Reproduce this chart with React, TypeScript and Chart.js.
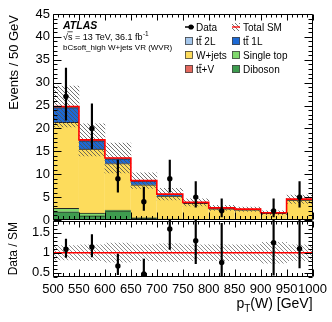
import React, { useEffect, useRef } from "react";
import { Chart, registerables } from "chart.js";

Chart.register(...registerables);

const FONT = "'Liberation Sans', Arial, Helvetica, sans-serif";

// ---- axes / ticks ----
const binEdges = [500, 550, 600, 650, 700, 750, 800, 850, 900, 950, 1000];
const binCenters = [525, 575, 625, 675, 725, 775, 825, 875, 925, 975];
const xTickValues = [500, 550, 600, 650, 700, 750, 800, 850, 900, 950, 1000];
const yTickValues = [0, 5, 10, 15, 20, 25, 30, 35, 40, 45];
const ratioTickValues = [0.5, 1, 1.5];
const X_MIN = 500;
const X_MAX = 1000;
const Y_MIN = 0;
const Y_MAX = 45;
const RATIO_MIN = 0.39;
const RATIO_MAX = 1.82;

// ---- data ----
const dataCounts = [27, 20, 9, 4, 9, 5, 2, 0, 2, 5];
const dataErrUp = [6.2, 5.4, 4.1, 3.2, 4.1, 3.4, 2.6, 0, 2.6, 3.4];
const dataErrDown = [5.2, 4.4, 2.9, 1.9, 2.9, 2.2, 1.3, 0, 1.3, 2.2];

// ---- MC backgrounds (stack order bottom -> top) ----
const dibosonYield = [1.8, 0.9, 2.0, 0.4, 0.15, 0.1, 0.1, 0.1, 0.05, 0.1];
const singleTopYield = [0.75, 0.6, 0.15, 0.05, 0.05, 0.05, 0.05, 0.02, 0.05, 0.05];
const wjetsYield = [18.8, 14.0, 10.2, 7.25, 5.0, 3.5, 2.3, 2.1, 1.35, 4.2];
const ttbar1LYield = [3.2, 1.8, 1.0, 0.8, 0.35, 0.1, 0.1, 0.05, 0.05, 0.1];
const ttbar2LYield = [0.1, 0.1, 0.1, 0.05, 0.05, 0.05, 0.05, 0.05, 0.05, 0.05];
const ttVYield = [0.15, 0.1, 0.1, 0.05, 0.05, 0.05, 0.05, 0.05, 0.05, 0.05];
const mcRelUnc = [0.18, 0.2, 0.24, 0.2, 0.22, 0.2, 0.2, 0.2, 0.26, 0.2];

// ---- texts ----
const atlasLabel = "ATLAS";
const energyLabel = "\u221As = 13 TeV, 36.1 fb";
const lumiSup = "-1";
const regionLabel = "bCsoft_high W+jets VR (WVR)";
const yTitle = "Events / 50 GeV";
const ratioTitle = "Data / SM";
const xTitleMain = "p";
const xTitleSub = "T";
const xTitleRest = "(W) [GeV]";

const mcSeries = [
  { label: "Diboson", values: dibosonYield, color: "#3e9c4f" },
  { label: "Single top", values: singleTopYield, color: "#80d96d" },
  { label: "W+jets", values: wjetsYield, color: "#fddc5c" },
  { label: "tt\u0304 1L", values: ttbar1LYield, color: "#1c69d5" },
  { label: "tt\u0304 2L", values: ttbar2LYield, color: "#a5c7ec" },
  { label: "tt\u0304+V", values: ttVYield, color: "#e4685e" },
];

const legendLeft = ["Data", "tt\u0304 2L", "W+jets", "tt\u0304+V"];
const legendRight = ["Total SM", "tt\u0304 1L", "Single top", "Diboson"];

function makeHatch(ctx: CanvasRenderingContext2D, color: string, size: number) {
  const c = document.createElement("canvas");
  c.width = size;
  c.height = size;
  const g = c.getContext("2d")!;
  g.strokeStyle = color;
  g.lineWidth = 1;
  g.beginPath();
  g.moveTo(0, 0);
  g.lineTo(size, size);
  g.moveTo(-1, size - 1);
  g.lineTo(1, size + 1);
  g.moveTo(size - 1, -1);
  g.lineTo(size + 1, 1);
  g.stroke();
  return ctx.createPattern(c, "repeat")!;
}

function colorOf(label: string) {
  const s = mcSeries.find((m) => m.label === label);
  return s ? s.color : "#000";
}

function drawLabel(ctx: CanvasRenderingContext2D, text: string, x: number, y: number) {
  // handles the ttbar overline manually
  if (text.startsWith("tt\u0304")) {
    const wT = ctx.measureText("t").width;
    ctx.fillText("tt", x, y);
    ctx.save();
    ctx.strokeStyle = "#000";
    ctx.lineWidth = 0.8;
    ctx.beginPath();
    ctx.moveTo(x + wT + 0.2, y - 8.3);
    ctx.lineTo(x + 2 * wT + 0.3, y - 8.3);
    ctx.stroke();
    ctx.restore();
    ctx.fillText(text.slice(3), x + 2 * wT, y);
  } else {
    ctx.fillText(text, x, y);
  }
}

export default function App() {
  const ref = useRef<HTMLCanvasElement>(null);

  useEffect(() => {
    const canvas = ref.current!;
    const c2d = canvas.getContext("2d")!;
    const hatchMain = makeHatch(c2d, "rgba(80,80,80,0.8)", 4);
    const hatchRatio = makeHatch(c2d, "rgba(120,120,120,0.85)", 4);

    const total = binCenters.map((_, i) =>
      mcSeries.reduce((s, m) => s + m.values[i], 0)
    );

    const clampR = (v: number) => Math.min(RATIO_MAX, Math.max(RATIO_MIN, v));
    const hasData = (i: number) => dataCounts[i] > 0;
    const idx = binCenters.map((_, i) => i).filter(hasData);

    const fullBin = { barPercentage: 1, categoryPercentage: 1, grouped: false };

    const datasets: any[] = [
      // main: data points
      {
        type: "scatter",
        xAxisID: "x",
        yAxisID: "y",
        stack: "pts",
        data: idx.map((i) => ({ x: binCenters[i], y: dataCounts[i] })),
        pointRadius: 2.7,
        pointBackgroundColor: "#000",
        pointBorderWidth: 0,
        order: 0,
      },
      // main: data error bars
      {
        type: "bar",
        xAxisID: "x",
        yAxisID: "y",
        stack: "err",
        grouped: false,
        barThickness: 1.5,
        backgroundColor: "#000",
        borderWidth: 0,
        data: idx.map((i) => ({
          x: binCenters[i],
          y: [dataCounts[i] - dataErrDown[i], dataCounts[i] + dataErrUp[i]],
        })),
        order: 1,
      },
      // main: total SM line
      {
        type: "line",
        xAxisID: "x",
        yAxisID: "y",
        stack: "smline",
        stepped: "before",
        data: binEdges.map((x, i) => ({ x, y: total[Math.min(i, total.length - 1)] })),
        borderColor: "#ff0000",
        borderWidth: 1.6,
        pointRadius: 0,
        fill: false,
        order: 2,
      },
      // main: uncertainty band
      {
        type: "bar",
        xAxisID: "x",
        yAxisID: "y",
        stack: "band",
        ...fullBin,
        backgroundColor: hatchMain,
        borderWidth: 0,
        data: binCenters.map((x, i) => ({
          x,
          y: [total[i] * (1 - mcRelUnc[i]), total[i] * (1 + mcRelUnc[i])],
        })),
        order: 3,
      },
      // main: stacked MC
      ...mcSeries.map((m) => ({
        type: "bar",
        label: m.label,
        xAxisID: "x",
        yAxisID: "y",
        stack: "mc",
        ...fullBin,
        backgroundColor: m.color,
        borderColor: "rgba(0,0,0,0.85)",
        borderWidth: { top: 1, left: 0, right: 0, bottom: 0 },
        borderSkipped: false,
        data: binCenters.map((x, i) => ({ x, y: m.values[i] })),
        order: 10,
      })),
      // ratio: points
      {
        type: "scatter",
        xAxisID: "x",
        yAxisID: "yRatio",
        data: idx.map((i) => ({ x: binCenters[i], y: dataCounts[i] / total[i] })),
        pointRadius: 2.7,
        pointBackgroundColor: "#000",
        pointBorderWidth: 0,
        order: 0,
      },
      // ratio: error bars
      {
        type: "bar",
        xAxisID: "x",
        yAxisID: "yRatio",
        grouped: false,
        barThickness: 1.5,
        backgroundColor: "#000",
        borderWidth: 0,
        data: idx.map((i) => ({
          x: binCenters[i],
          y: [
            clampR((dataCounts[i] - dataErrDown[i]) / total[i]),
            clampR((dataCounts[i] + dataErrUp[i]) / total[i]),
          ],
        })),
        order: 1,
      },
      // ratio: unity line
      {
        type: "line",
        xAxisID: "x",
        yAxisID: "yRatio",
        data: [
          { x: X_MIN, y: 1 },
          { x: X_MAX, y: 1 },
        ],
        borderColor: "#ff0000",
        borderWidth: 1.6,
        pointRadius: 0,
        fill: false,
        order: 2,
      },
      // ratio: uncertainty band
      {
        type: "bar",
        xAxisID: "x",
        yAxisID: "yRatio",
        ...fullBin,
        backgroundColor: hatchRatio,
        borderWidth: 0,
        data: binCenters.map((x, i) => ({
          x,
          y: [1 - mcRelUnc[i], 1 + mcRelUnc[i]],
        })),
        order: 3,
      },
    ];

    const axesPlugin = {
      id: "atlasAxes",
      afterDatasetsDraw(chart: any) {
        const ctx: CanvasRenderingContext2D = chart.ctx;
        const xs = chart.scales.x;
        const ys = chart.scales.y;
        const rs = chart.scales.yRatio;
        const L = Math.round(xs.left) + 0.5;
        const R = Math.round(xs.right) - 0.5;
        ctx.save();
        ctx.strokeStyle = "#000";
        ctx.lineWidth = 1;
        const panels = [
          { s: ys, t: Math.round(ys.top) + 0.5, b: Math.round(ys.bottom) - 0.5 },
          { s: rs, t: Math.round(rs.top) + 1.5, b: Math.round(rs.bottom) - 0.5 },
        ];
        ctx.beginPath();
        for (const p of panels) {
          ctx.rect(L, p.t, R - L, p.b - p.t);
        }
        // x ticks
        for (let v = X_MIN; v <= X_MAX; v += 10) {
          const px = Math.round(xs.getPixelForValue(v)) + 0.5;
          const major = v % 50 === 0;
          const lm = major ? 7 : 3.5;
          for (const p of panels) {
            ctx.moveTo(px, p.b);
            ctx.lineTo(px, p.b - lm);
            ctx.moveTo(px, p.t);
            ctx.lineTo(px, p.t + (major ? 6 : 3));
          }
        }
        // main y ticks
        for (let v = Y_MIN; v <= Y_MAX; v += 1) {
          const py = Math.round(ys.getPixelForValue(v)) + 0.5;
          const lm = v % 5 === 0 ? 8 : 4;
          ctx.moveTo(L, py);
          ctx.lineTo(L + lm, py);
          ctx.moveTo(R, py);
          ctx.lineTo(R - lm, py);
        }
        // ratio y ticks
        for (let k = 4; k <= 18; k += 1) {
          const v = k / 10;
          if (v < RATIO_MIN || v > RATIO_MAX) continue;
          const py = Math.round(rs.getPixelForValue(v)) + 0.5;
          const lm = k % 5 === 0 ? 8 : 4;
          ctx.moveTo(L, py);
          ctx.lineTo(L + lm, py);
          ctx.moveTo(R, py);
          ctx.lineTo(R - lm, py);
        }
        ctx.stroke();
        ctx.restore();
      },
      afterDraw(chart: any) {
        const ctx: CanvasRenderingContext2D = chart.ctx;
        const xs = chart.scales.x;
        const ys = chart.scales.y;
        const rs = chart.scales.yRatio;
        ctx.save();
        ctx.fillStyle = "#000";
        ctx.textBaseline = "alphabetic";

        // axis titles
        ctx.save();
        ctx.font = `13px ${FONT}`;
        ctx.translate(14, ys.top + 1);
        ctx.rotate(-Math.PI / 2);
        ctx.textAlign = "right";
        ctx.textBaseline = "middle";
        ctx.fillText(yTitle, 0, 0);
        ctx.restore();

        ctx.save();
        ctx.font = `12px ${FONT}`;
        ctx.translate(14, rs.top + 2);
        ctx.rotate(-Math.PI / 2);
        ctx.textAlign = "right";
        ctx.textBaseline = "middle";
        ctx.fillText(ratioTitle, 0, 0);
        ctx.restore();

        // x title p_T(W) [GeV], right aligned
        ctx.textAlign = "left";
        ctx.font = `14px ${FONT}`;
        const wRest = ctx.measureText(xTitleRest).width;
        const wP = ctx.measureText(xTitleMain).width;
        ctx.font = `10px ${FONT}`;
        const wT = ctx.measureText(xTitleSub).width;
        const xr = xs.right;
        const base = 308;
        const xRest = xr - wRest;
        const xT = xRest - wT;
        const xP = xT - wP;
        ctx.font = `14px ${FONT}`;
        ctx.fillText(xTitleMain, xP, base);
        ctx.fillText(xTitleRest, xRest, base);
        ctx.font = `10px ${FONT}`;
        ctx.fillText(xTitleSub, xT, base + 4);

        // ATLAS labels
        const tx = xs.left + 10;
        ctx.font = `italic bold 10.5px ${FONT}`;
        ctx.fillText(atlasLabel, tx, 28.5);
        ctx.font = `9px ${FONT}`;
        ctx.fillText(energyLabel, tx, 39.5);
        const wRoot = ctx.measureText("\u221A").width;
        const wS = ctx.measureText("\u221As").width;
        const wE = ctx.measureText(energyLabel).width;
        ctx.strokeStyle = "#000";
        ctx.lineWidth = 0.7;
        ctx.beginPath();
        ctx.moveTo(tx + wRoot - 0.5, 31.8);
        ctx.lineTo(tx + wS + 0.3, 31.8);
        ctx.stroke();
        ctx.font = `6.5px ${FONT}`;
        ctx.fillText(lumiSup, tx + wE + 0.5, 35.5);
        ctx.font = `8px ${FONT}`;
        ctx.fillText(regionLabel, tx, 49.5);

        // legend
        const rows = [27, 41, 55, 69];
        const c1 = 185;
        const c2 = 232;
        const bw = 8;
        ctx.font = `10px ${FONT}`;
        legendLeft.forEach((lab, k) => {
          const yc = rows[k];
          if (lab === "Data") {
            ctx.strokeStyle = "#000";
            ctx.lineWidth = 1.5;
            ctx.beginPath();
            ctx.moveTo(c1, yc);
            ctx.lineTo(c1 + 9, yc);
            ctx.stroke();
            ctx.beginPath();
            ctx.arc(c1 + 6, yc, 2.6, 0, Math.PI * 2);
            ctx.fill();
          } else {
            ctx.fillStyle = colorOf(lab);
            ctx.fillRect(c1, yc - 4, bw, bw);
            ctx.strokeStyle = "#444";
            ctx.lineWidth = 0.8;
            ctx.strokeRect(c1 + 0.5, yc - 3.5, bw - 1, bw - 1);
            ctx.fillStyle = "#000";
          }
          drawLabel(ctx, lab, c1 + 11, yc + 3.7);
        });
        legendRight.forEach((lab, k) => {
          const yc = rows[k];
          if (lab === "Total SM") {
            ctx.fillStyle = hatchMain;
            ctx.fillRect(c2, yc - 4, bw, bw);
            ctx.strokeStyle = "#ff0000";
            ctx.lineWidth = 1.3;
            ctx.beginPath();
            ctx.moveTo(c2, yc);
            ctx.lineTo(c2 + bw, yc);
            ctx.stroke();
            ctx.fillStyle = "#000";
          } else {
            ctx.fillStyle = colorOf(lab);
            ctx.fillRect(c2, yc - 4, bw, bw);
            ctx.strokeStyle = "#444";
            ctx.lineWidth = 0.8;
            ctx.strokeRect(c2 + 0.5, yc - 3.5, bw - 1, bw - 1);
            ctx.fillStyle = "#000";
          }
          drawLabel(ctx, lab, c2 + 11, yc + 3.7);
        });
        ctx.restore();
      },
    };

    const tickFont = { family: FONT, size: 13 };

    const chart = new Chart(canvas, {
      type: "bar",
      data: { datasets },
      options: {
        responsive: false,
        animation: false,
        devicePixelRatio: 1,
        events: [],
        layout: { padding: { top: 14, right: 17, bottom: 0, left: 0 } },
        plugins: { legend: { display: false }, tooltip: { enabled: false } },
        scales: {
          x: {
            type: "linear",
            position: "bottom",
            min: X_MIN,
            max: X_MAX,
            offset: false,
            afterBuildTicks: (s: any) => {
              s.ticks = xTickValues.map((v) => ({ value: v }));
            },
            ticks: {
              callback: (v: any) => String(v),
              font: tickFont,
              color: "#000",
              padding: 5,
              maxRotation: 0,
              minRotation: 0,
              autoSkip: false,
            },
            grid: { display: false, drawTicks: false, offset: false },
            border: { display: false },
            afterFit: (s: any) => {
              s.height = 45;
            },
          },
          y: {
            type: "linear",
            axis: "y",
            position: "left",
            stack: "v",
            stackWeight: 206,
            weight: 1,
            stacked: true,
            min: Y_MIN,
            max: Y_MAX,
            afterBuildTicks: (s: any) => {
              s.ticks = yTickValues.map((v) => ({ value: v }));
            },
            ticks: { callback: (v: any) => String(v), font: tickFont, color: "#000", padding: 3, autoSkip: false },
            grid: { display: false, drawTicks: false },
            border: { display: false },
            afterFit: (s: any) => {
              s.width = 53;
            },
          },
          yRatio: {
            type: "linear",
            axis: "y",
            position: "left",
            stack: "v",
            stackWeight: 57,
            weight: 0,
            stacked: false,
            min: RATIO_MIN,
            max: RATIO_MAX,
            afterBuildTicks: (s: any) => {
              s.ticks = ratioTickValues.map((v) => ({ value: v }));
            },
            ticks: { callback: (v: any) => String(v), font: tickFont, color: "#000", padding: 3, autoSkip: false },
            grid: { display: false, drawTicks: false },
            border: { display: false },
            afterFit: (s: any) => {
              s.width = 53;
            },
          },
        } as any,
      },
      plugins: [axesPlugin],
    } as any);

    return () => chart.destroy();
  }, []);

  return (
    <canvas
      ref={ref}
      width={332}
      height={322}
      style={{ position: "fixed", left: 0, top: 0, width: 332, height: 322, background: "#fff" }}
    />
  );
}
